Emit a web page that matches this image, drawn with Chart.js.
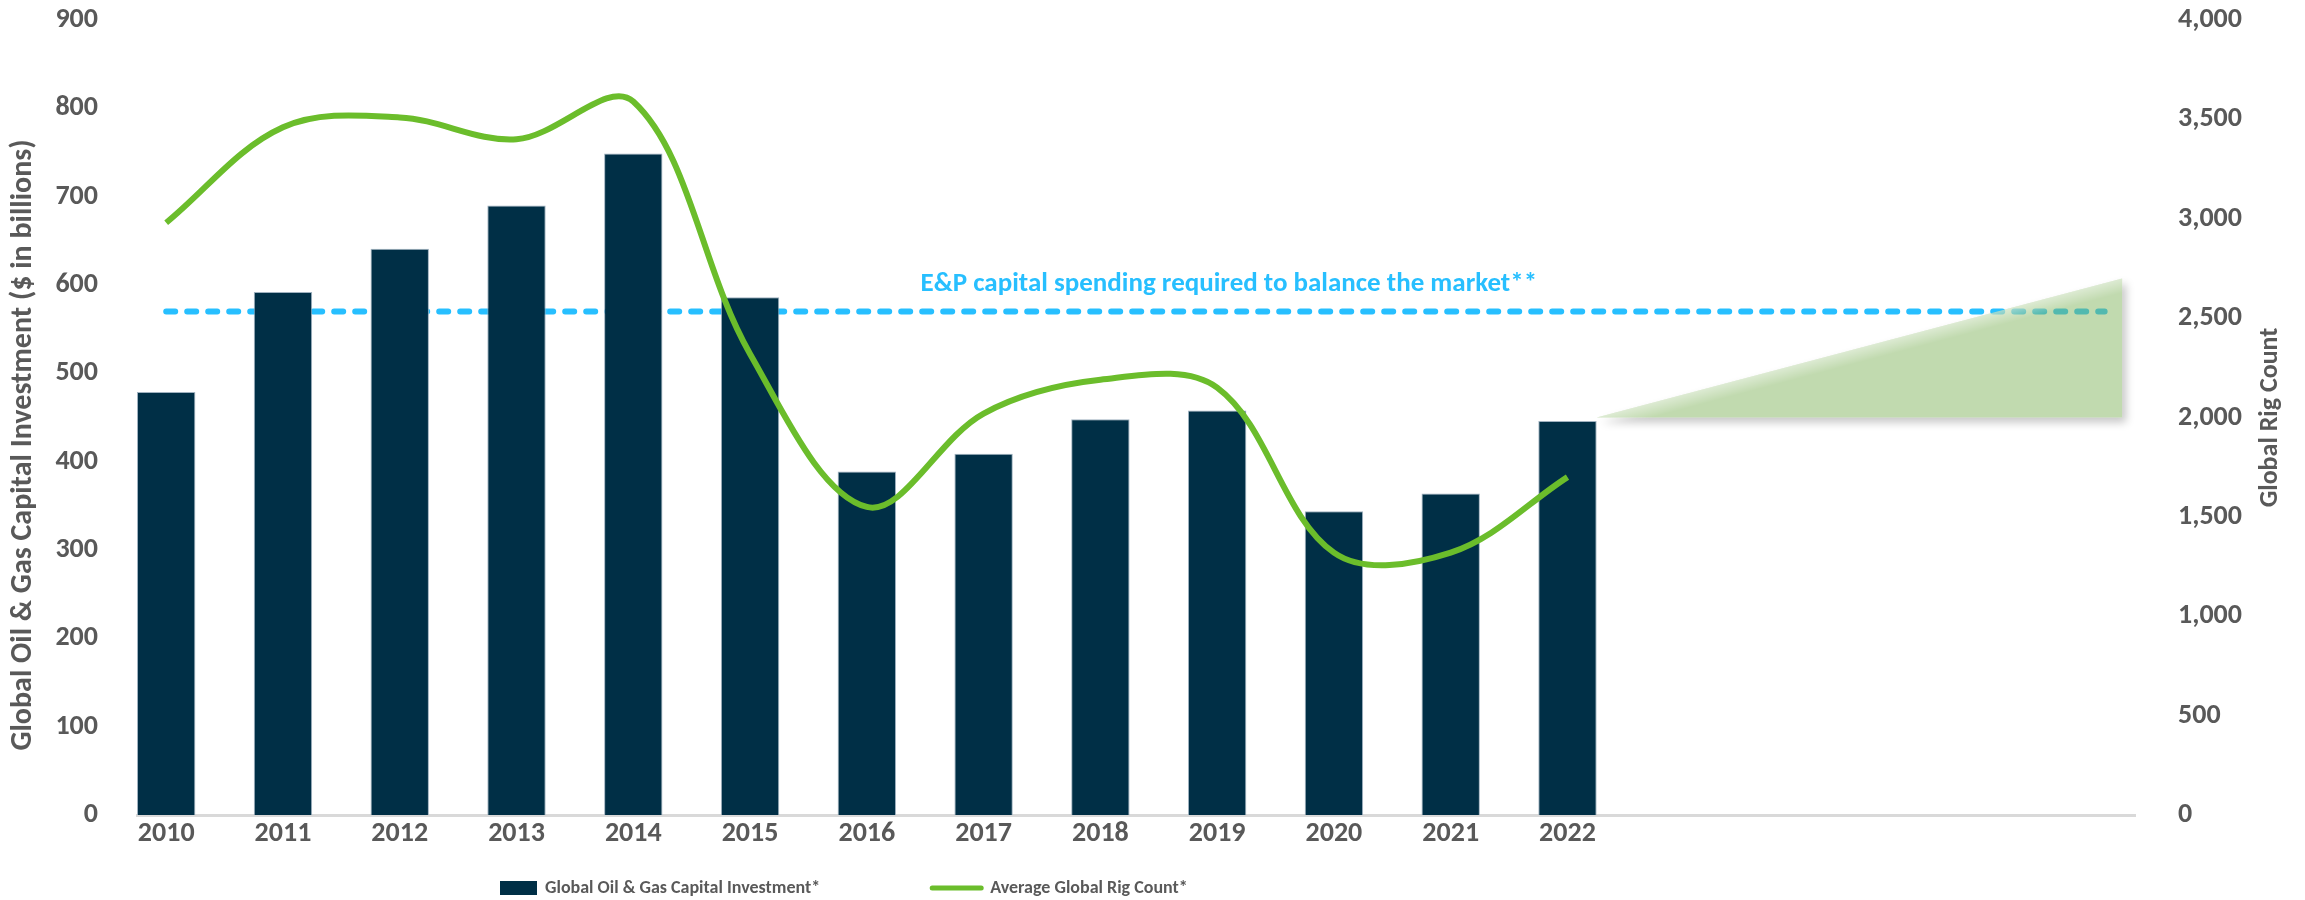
<!DOCTYPE html>
<html>
<head>
<meta charset="utf-8">
<title>Global Oil & Gas Capital Investment vs Rig Count</title>
<script src="https://cdn.jsdelivr.net/npm/chart.js@4.4.0/dist/chart.umd.min.js"></script>
<style>
  html, body { margin: 0; padding: 0; background: #fff; }
  #wrap { position: relative; width: 2305px; height: 900px; }
</style>
</head>
<body>
<div id="wrap"><canvas id="capexChart"></canvas></div>
<script>
// data
const years = [2010, 2011, 2012, 2013, 2014, 2015, 2016, 2017, 2018, 2019, 2020, 2021, 2022];
const capexBillions = [479, 592, 641, 690, 749, 586, 389, 409, 448, 458, 344, 364, 446];
const rigCount = [2980, 3460, 3510, 3400, 3590, 2320, 1550, 2020, 2190, 2150, 1320, 1320, 1700];

// E&P spend needed to balance the market ($bn), drawn as a dashed reference line
const balanceLevel = 570;
const balanceYears = [2010, 2026.6];
const balanceText = 'E&P capital spending required to balance the market**';

// outlook wedge (rig count axis)
const outlookYears = [2022.25, 2026.75];
const outlookRigs = [2000, 2700];

const leftTitle = 'Global Oil & Gas Capital Investment ($ in billions)';
const rightTitle = 'Global Rig Count';

const FONT = "Carlito, Lato, 'Open Sans', sans-serif";
const GREY = '#595959';
const NAVY = '#002F46';
const GREEN = '#6BBD2B';
const SKY = '#27BFFF';

// wedge: white shadow shape under the datasets, translucent green on top
const outlookWedge = {
  id: 'outlookWedge',
  _pts(chart) {
    const x = chart.scales.x, y = chart.scales.y1;
    return [
      [x.getPixelForValue(outlookYears[0]), y.getPixelForValue(outlookRigs[0])],
      [x.getPixelForValue(outlookYears[1]), y.getPixelForValue(outlookRigs[1])],
      [x.getPixelForValue(outlookYears[1]), y.getPixelForValue(outlookRigs[0])]
    ];
  },
  _path(ctx, p) {
    ctx.beginPath();
    ctx.moveTo(p[0][0], p[0][1]);
    ctx.lineTo(p[1][0], p[1][1]);
    ctx.lineTo(p[2][0], p[2][1]);
    ctx.closePath();
  },
  beforeDatasetsDraw(chart) {
    const ctx = chart.ctx, p = this._pts(chart);
    ctx.save();
    ctx.shadowColor = 'rgba(0,0,0,0.22)';
    ctx.shadowBlur = 9;
    ctx.shadowOffsetX = 4;
    ctx.shadowOffsetY = 5;
    ctx.fillStyle = '#fff';
    this._path(ctx, p);
    ctx.fill();
    ctx.restore();
  },
  afterDatasetsDraw(chart) {
    const ctx = chart.ctx, p = this._pts(chart);
    ctx.save();
    ctx.fillStyle = 'rgba(128,180,92,0.49)';
    this._path(ctx, p);
    ctx.fill();
    // light band along the slanted edge
    const dx = p[1][0] - p[0][0], dy = p[1][1] - p[0][1];
    const len = Math.hypot(dx, dy);
    const nx = -dy / len, ny = dx / len;
    const mx = (p[0][0] + p[1][0]) / 2, my = (p[0][1] + p[1][1]) / 2;
    const g = ctx.createLinearGradient(mx, my, mx + nx * 14, my + ny * 14);
    g.addColorStop(0, 'rgba(255,255,255,0.45)');
    g.addColorStop(1, 'rgba(255,255,255,0)');
    ctx.fillStyle = g;
    this._path(ctx, p);
    ctx.fill();
    ctx.restore();
  }
};

const textBits = {
  id: 'textBits',
  afterDraw(chart) {
    const ctx = chart.ctx, area = chart.chartArea;
    const x = chart.scales.x, y = chart.scales.y;
    ctx.save();
    // annotation above the dashed line
    ctx.fillStyle = SKY;
    ctx.font = 'bold 27px ' + FONT;
    ctx.textAlign = 'center';
    ctx.textBaseline = 'middle';
    ctx.fillText(balanceText, x.getPixelForValue(2019.1), y.getPixelForValue(balanceLevel) - 27);

    // axis titles (both read bottom to top)
    ctx.fillStyle = GREY;
    ctx.font = 'bold 30px ' + FONT;
    ctx.save();
    ctx.translate(23, 445);
    ctx.rotate(-Math.PI / 2);
    ctx.fillText(leftTitle, 0, 0);
    ctx.restore();
    ctx.font = 'bold 26px ' + FONT;
    ctx.save();
    ctx.translate(2270, (area.top + area.bottom) / 2);
    ctx.rotate(-Math.PI / 2);
    ctx.fillText(rightTitle, 0, 0);
    ctx.restore();

    // legend
    ctx.font = 'bold 18px ' + FONT;
    ctx.textAlign = 'left';
    const ly = 888;
    let lx = 500;
    chart.data.datasets.filter(d => d.inLegend).forEach(d => {
      if (d.type === 'line') {
        ctx.strokeStyle = d.borderColor;
        ctx.lineWidth = 5;
        ctx.lineCap = 'round';
        ctx.beginPath();
        ctx.moveTo(lx + 2, ly);
        ctx.lineTo(lx + 51, ly);
        ctx.stroke();
        lx += 60;
      } else {
        ctx.fillStyle = d.backgroundColor;
        ctx.fillRect(lx, ly - 7, 37, 14);
        lx += 45;
      }
      ctx.fillStyle = GREY;
      ctx.fillText(d.label, lx, ly);
      lx += ctx.measureText(d.label).width + 110;
    });
    ctx.restore();
  }
};

const tickFont = { family: FONT, size: 28, weight: 'bold' };

new Chart(document.getElementById('capexChart'), {
  type: 'bar',
  data: {
    datasets: [
      {
        type: 'line',
        label: 'balance',
        data: balanceYears.map(v => ({ x: v, y: balanceLevel })),
        yAxisID: 'y',
        borderColor: SKY,
        borderWidth: 6,
        borderDash: [9, 12],
        borderCapStyle: 'round',
        pointRadius: 0,
        fill: false,
        order: 4
      },
      {
        type: 'bar',
        label: 'Global Oil & Gas Capital Investment*',
        inLegend: true,
        data: years.map((v, i) => ({ x: v, y: capexBillions[i] })),
        yAxisID: 'y',
        backgroundColor: NAVY,
        borderColor: 'rgba(150,170,185,0.9)',
        borderWidth: 1,
        categoryPercentage: 1,
        barPercentage: 0.5,
        order: 3
      },
      {
        type: 'line',
        label: 'Average Global Rig Count*',
        inLegend: true,
        data: years.map((v, i) => ({ x: v, y: rigCount[i] })),
        yAxisID: 'y1',
        borderColor: GREEN,
        borderWidth: 6,
        tension: 0.35,
        pointRadius: 0,
        fill: false,
        order: 1
      }
    ]
  },
  options: {
    responsive: true,
    maintainAspectRatio: false,
    animation: false,
    layout: { padding: { top: 20, left: 0, right: 0, bottom: 0 } },
    plugins: {
      legend: { display: false },
      tooltip: { enabled: false }
    },
    scales: {
      x: {
        type: 'linear',
        min: 2009.75,
        max: 2026.86,
        offset: false,
        afterBuildTicks: s => { s.ticks = years.map(v => ({ value: v })); },
        afterFit: s => { s.height = 85; },
        grid: { display: false, drawTicks: false },
        border: { display: true, color: '#D9D9D9', width: 3 },
        ticks: { color: GREY, font: tickFont, padding: 2, autoSkip: false, maxRotation: 0, callback: v => String(v) }
      },
      y: {
        position: 'left',
        min: 0,
        max: 900,
        afterFit: s => { s.width = 137; },
        // tick marks are hidden (grid off) but their length spaces the labels from the plot
        grid: { display: false, drawTicks: true, tickLength: 37 },
        border: { display: false },
        ticks: { stepSize: 100, color: GREY, font: tickFont, padding: 2 }
      },
      y1: {
        position: 'right',
        min: 0,
        max: 4000,
        afterFit: s => { s.width = 170; },
        grid: { display: false, drawTicks: true, tickLength: 41 },
        border: { display: false },
        ticks: { stepSize: 500, color: GREY, font: tickFont, padding: 2, callback: v => v.toLocaleString('en-US') }
      }
    }
  },
  plugins: [outlookWedge, textBits]
});
</script>
</body>
</html>
